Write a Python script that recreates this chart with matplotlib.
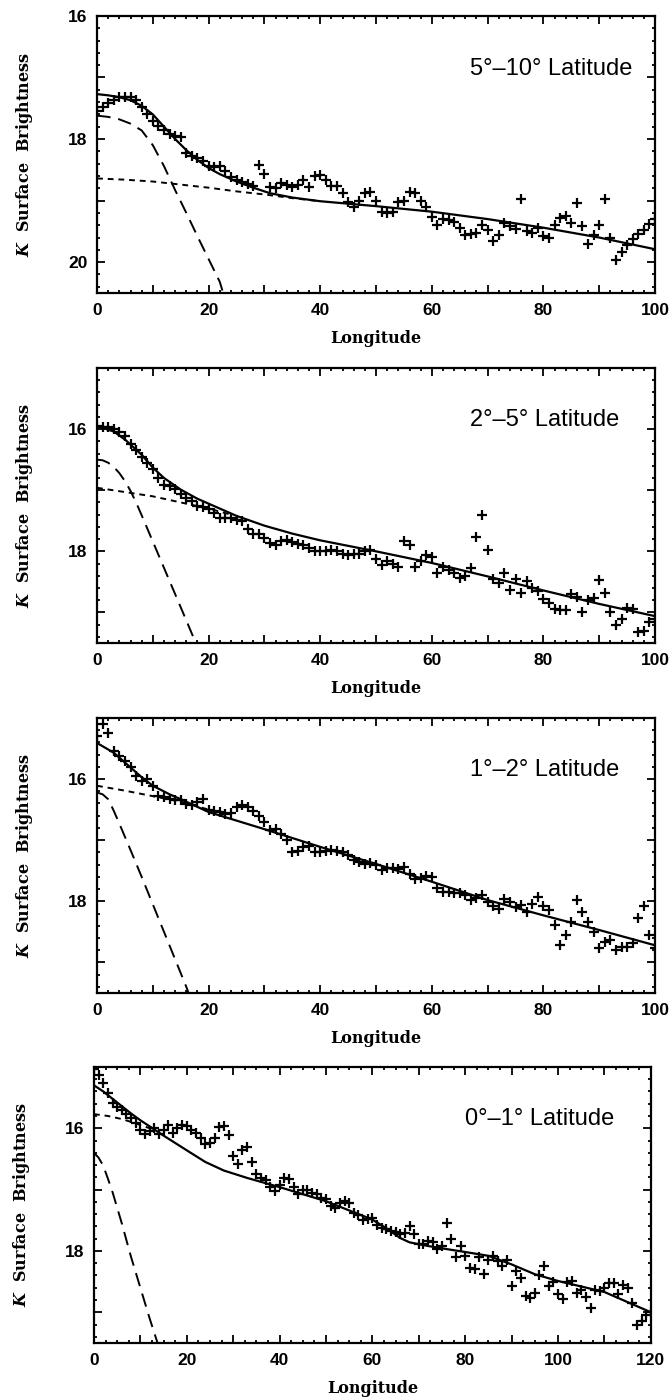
import numpy as np
import matplotlib
matplotlib.use("Agg")
import matplotlib.pyplot as plt
from matplotlib.ticker import MultipleLocator, FuncFormatter

plt.rcParams['mathtext.fontset'] = 'custom'
plt.rcParams['mathtext.it'] = 'DejaVu Serif:italic:bold'
plt.rcParams['mathtext.rm'] = 'DejaVu Serif:bold'

### data (K surface brightness vs longitude)
lon100 = np.arange(0, 101)
lon120 = np.arange(0, 121)

# 5-10 deg latitude
b1 = [17.54, 17.48, 17.42, 17.36, 17.32, 17.31, 17.31, 17.36, 17.48, 17.60,
      17.70, 17.78, 17.86, 17.92, 17.95, 17.96, 18.22, 18.27, 18.30, 18.36,
      18.44, 18.46, 18.44, 18.52, 18.62, 18.66, 18.70, 18.73, 18.76, 18.42,
      18.56, 18.78, 18.80, 18.72, 18.74, 18.78, 18.74, 18.66, 18.78, 18.60,
      18.58, 18.66, 18.76, 18.76, 18.88, 19.02, 19.10, 19.00, 18.88, 18.86,
      19.00, 19.18, 19.20, 19.18, 19.02, 19.00, 18.86, 18.88, 19.00, 19.10,
      19.26, 19.40, 19.30, 19.32, 19.34, 19.44, 19.56, 19.54, 19.52, 19.40,
      19.48, 19.66, 19.56, 19.36, 19.42, 19.46, 18.98, 19.50, 19.52, 19.44,
      19.58, 19.60, 19.40, 19.28, 19.25, 19.36, 19.04, 19.42, 19.70, 19.56,
      19.40, 18.98, 19.60, 19.96, 19.84, 19.72, 19.62, 19.55, 19.48, 19.38,
      19.30]
xs1 = [0, 2, 4, 6, 8, 10, 12, 14, 16, 18, 20, 22, 25, 28, 31, 35, 40, 50, 60, 70, 80, 90, 100]
ys1 = [17.27, 17.29, 17.32, 17.37, 17.46, 17.60, 17.80, 18.00, 18.18, 18.34, 18.47, 18.57,
       18.69, 18.79, 18.88, 18.95, 19.01, 19.09, 19.18, 19.30, 19.44, 19.60, 19.79]
xd1 = [0, 5, 10, 15, 20, 25, 30, 35, 40]
yd1 = [18.64, 18.66, 18.69, 18.74, 18.79, 18.85, 18.90, 18.96, 19.01]
xb1 = [0, 2, 4, 6, 8, 10, 12, 14, 16, 18, 20, 22, 22.6]
yb1 = [17.62, 17.64, 17.68, 17.75, 17.86, 18.10, 18.44, 18.83, 19.20, 19.58, 19.95, 20.32, 20.50]

# 2-5 deg latitude
b2 = [15.95, 15.96, 15.97, 16.00, 16.04, 16.12, 16.24, 16.35, 16.46, 16.55,
      16.65, 16.80, 16.92, 16.93, 16.98, 17.06, 17.12, 17.17, 17.26, 17.28,
      17.31, 17.37, 17.45, 17.46, 17.46, 17.48, 17.50, 17.64, 17.72, 17.72,
      17.78, 17.86, 17.89, 17.83, 17.81, 17.84, 17.88, 17.90, 17.94, 18.00,
      17.99, 17.99, 17.97, 18.00, 18.04, 18.06, 18.04, 18.04, 18.00, 17.98,
      18.12, 18.22, 18.16, 18.20, 18.25, 17.83, 17.90, 18.25, 18.16, 18.06,
      18.10, 18.36, 18.25, 18.30, 18.36, 18.44, 18.40, 18.27, 17.76, 17.40,
      17.98, 18.45, 18.52, 18.36, 18.63, 18.45, 18.68, 18.49, 18.60, 18.65,
      18.78, 18.84, 18.94, 18.96, 18.96, 18.70, 18.74, 18.99, 18.80, 18.77,
      18.47, 18.68, 19.00, 19.21, 19.10, 18.93, 18.95, 19.32, 19.30, 19.16,
      19.10]
xs2 = [0, 3, 5, 8, 10, 12, 15, 18, 20, 25, 30, 35, 40, 50, 60, 70, 80, 90, 100]
ys2 = [15.95, 16.04, 16.17, 16.42, 16.63, 16.80, 16.99, 17.14, 17.22, 17.42, 17.58,
       17.71, 17.82, 18.00, 18.19, 18.41, 18.64, 18.86, 19.06]
xd2 = [0, 5, 10, 15, 20, 24]
yd2 = [16.96, 17.03, 17.10, 17.20, 17.30, 17.40]
xb2 = [0, 1, 2, 3, 4, 5, 6, 7, 8, 10, 12, 14, 16, 17.7]
yb2 = [16.50, 16.51, 16.55, 16.62, 16.72, 16.85, 17.01, 17.20, 17.41, 17.84, 18.27, 18.70, 19.13, 19.50]

# 1-2 deg latitude
b3 = [15.29, 15.10, 15.24, 15.54, 15.62, 15.70, 15.81, 15.95, 16.03, 16.00,
      16.11, 16.27, 16.30, 16.33, 16.34, 16.35, 16.41, 16.43, 16.38, 16.33,
      16.50, 16.52, 16.54, 16.57, 16.56, 16.46, 16.43, 16.46, 16.52, 16.60,
      16.71, 16.84, 16.82, 16.90, 17.00, 17.20, 17.18, 17.11, 17.09, 17.20,
      17.19, 17.17, 17.16, 17.18, 17.20, 17.25, 17.33, 17.36, 17.39, 17.38,
      17.40, 17.49, 17.46, 17.45, 17.47, 17.44, 17.55, 17.63, 17.62, 17.58,
      17.60, 17.79, 17.85, 17.85, 17.86, 17.86, 17.90, 17.98, 17.95, 17.90,
      18.01, 18.07, 18.12, 17.96, 18.01, 18.09, 18.06, 18.17, 18.04, 17.93,
      18.07, 18.15, 18.39, 18.72, 18.55, 18.34, 17.98, 18.17, 18.34, 18.50,
      18.77, 18.66, 18.64, 18.80, 18.74, 18.74, 18.69, 18.28, 18.07, 18.55,
      18.77]
xs3 = [0, 3, 5, 8, 10, 13, 15, 20, 25, 30, 40, 50, 60, 70, 80, 90, 100]
ys3 = [15.41, 15.57, 15.73, 15.97, 16.11, 16.25, 16.33, 16.54, 16.68, 16.82, 17.11,
       17.39, 17.68, 17.98, 18.23, 18.47, 18.72]
xd3 = [0, 5, 10, 15, 20]
yd3 = [16.11, 16.19, 16.28, 16.37, 16.50]
xb3 = [0, 1, 2, 3, 4, 6, 8, 10, 12, 14, 16, 16.4]
yb3 = [16.22, 16.25, 16.33, 16.52, 16.73, 17.16, 17.60, 18.05, 18.50, 18.95, 19.40, 19.50]

# 0-1 deg latitude
b4 = [15.04, 15.14, 15.27, 15.43, 15.59, 15.65, 15.70, 15.76, 15.84, 15.92,
      16.03, 16.10, 16.04, 16.00, 16.10, 16.03, 15.95, 16.08, 16.00, 15.95,
      15.97, 16.03, 16.08, 16.16, 16.26, 16.24, 16.16, 15.98, 15.96, 16.11,
      16.45, 16.58, 16.35, 16.30, 16.55, 16.75, 16.81, 16.84, 16.95, 17.03,
      16.92, 16.81, 16.82, 16.95, 17.08, 17.00, 17.00, 17.05, 17.08, 17.14,
      17.16, 17.27, 17.30, 17.22, 17.19, 17.22, 17.38, 17.41, 17.49, 17.48,
      17.47, 17.57, 17.62, 17.65, 17.68, 17.69, 17.73, 17.70, 17.60, 17.72,
      17.88, 17.89, 17.84, 17.86, 17.97, 17.92, 17.54, 17.80, 18.10, 17.92,
      18.08, 18.28, 18.30, 18.10, 18.38, 18.14, 18.08, 18.16, 18.25, 18.14,
      18.58, 18.32, 18.44, 18.74, 18.76, 18.68, 18.40, 18.25, 18.57, 18.51,
      18.70, 18.79, 18.50, 18.49, 18.68, 18.63, 18.75, 18.93, 18.63, 18.66,
      18.60, 18.52, 18.52, 18.70, 18.56, 18.60, 18.85, 19.20, 19.14, 19.04,
      19.00]
xs4 = [0, 2, 5, 8, 10, 12, 15, 20, 24, 28, 33, 40, 50, 60, 63, 66, 68, 72, 76, 81, 85,
       90, 95, 100, 110, 120]
ys4 = [15.30, 15.40, 15.58, 15.76, 15.87, 15.97, 16.12, 16.36, 16.55, 16.69, 16.81, 16.96,
       17.19, 17.49, 17.63, 17.79, 17.86, 17.92, 17.97, 18.03, 18.08, 18.22, 18.38, 18.49,
       18.67, 19.00]
xd4 = [0, 3, 6, 9, 12]
yd4 = [15.77, 15.80, 15.85, 15.92, 16.00]
xb4 = [0, 1, 2, 3, 4, 6, 8, 10, 12, 13.7]
yb4 = [16.40, 16.48, 16.61, 16.82, 17.04, 17.55, 18.10, 18.60, 19.10, 19.50]

panels = [
    (lon100, b1, xs1, ys1, xd1, yd1, xb1, yb1, "5°–10° Latitude", (16, 20.5), 100),
    (lon100, b2, xs2, ys2, xd2, yd2, xb2, yb2, "2°–5° Latitude", (15, 19.5), 100),
    (lon100, b3, xs3, ys3, xd3, yd3, xb3, yb3, "1°–2° Latitude", (15, 19.5), 100),
    (lon120, b4, xs4, ys4, xd4, yd4, xb4, yb4, "0°–1° Latitude", (15, 19.5), 120),
]
# axes boxes [left, bottom, width, height] in figure fraction
boxes = [
    [0.1446, 0.7903, 0.8316, 0.1983],
    [0.1446, 0.5397, 0.8316, 0.1969],
    [0.1446, 0.2892, 0.8316, 0.1969],
    [0.1400, 0.0387, 0.8300, 0.1976],
]
text_x = [0.96, 0.935, 0.935, 0.935]

fig = plt.figure(figsize=(6.71, 13.97), dpi=100)

for i, (lon, b, xs, ys, xd, yd, xb, yb, label, ylim, xmax) in enumerate(panels):
    ax = fig.add_axes(boxes[i])
    ax.plot(lon, b, '+', color='black', ms=7, mew=1.6)
    ax.plot(xs, ys, '-', color='black', lw=1.6)
    ax.plot(xd, yd, color='black', lw=1.4, dashes=(3, 2.5))
    ax.plot(xb, yb, color='black', lw=1.4, dashes=(7, 4))

    ax.set_xlim(0, xmax)
    ax.set_ylim(ylim[1], ylim[0])
    ax.xaxis.set_major_locator(MultipleLocator(10))
    ax.xaxis.set_minor_locator(MultipleLocator(2 if xmax == 100 else 2.5))
    ax.yaxis.set_major_locator(MultipleLocator(1))
    ax.yaxis.set_minor_locator(MultipleLocator(0.2))
    ax.xaxis.set_major_formatter(FuncFormatter(
        lambda v, p: f'{int(round(v))}' if int(round(v)) % 20 == 0 else ''))
    ax.yaxis.set_major_formatter(FuncFormatter(
        lambda v, p: f'{int(round(v))}' if int(round(v)) % 2 == 0 else ''))
    ax.tick_params(which='both', direction='in', top=True, right=True, width=1.3)
    ax.tick_params(which='major', length=5.5, pad=7)
    ax.tick_params(which='minor', length=2.5)
    for t in ax.get_xticklabels() + ax.get_yticklabels():
        t.set_fontfamily('Liberation Sans')
        t.set_fontweight('bold')
        t.set_fontsize(12.5)
    for s in ax.spines.values():
        s.set_linewidth(1.6)

    ax.set_xlabel('Longitude', fontfamily='DejaVu Serif', fontweight='bold',
                  fontsize=11.5, labelpad=9)
    ax.set_ylabel(r'$K$  Surface  Brightness', fontfamily='DejaVu Serif',
                  fontweight='bold', fontsize=11.5)
    ax.yaxis.set_label_coords(-0.112, 0.5)
    ax.text(text_x[i], 0.81, label, transform=ax.transAxes, ha='right', va='center',
            fontfamily='Liberation Sans', fontsize=17)

fig.savefig('out.png', dpi=100)
